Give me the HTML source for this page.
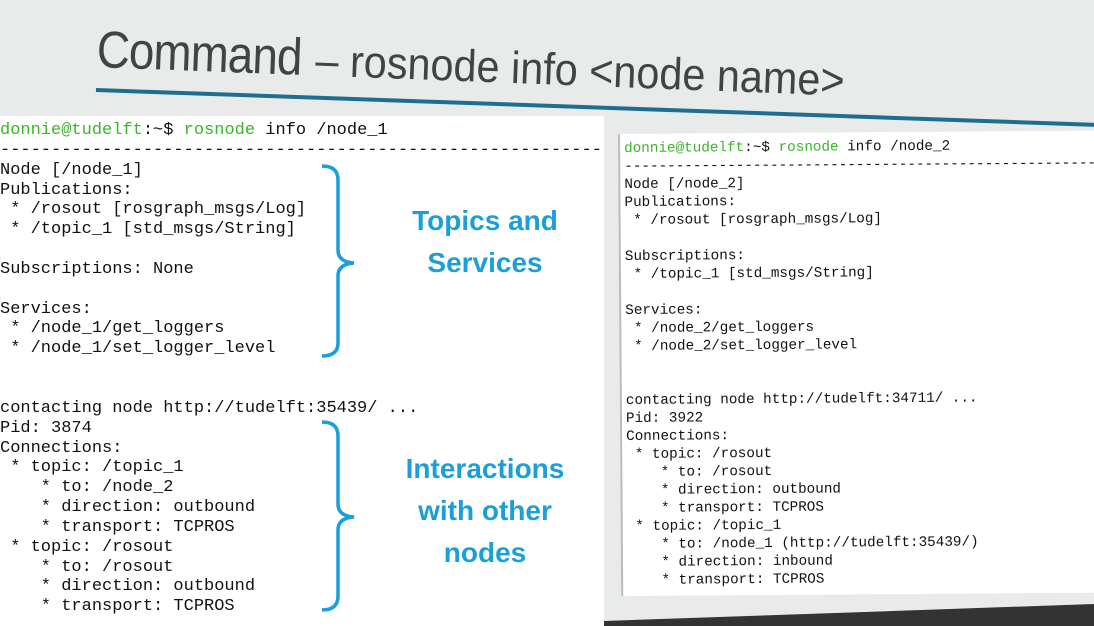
<!DOCTYPE html>
<html><head><meta charset="utf-8"><style>
html,body{margin:0;padding:0;width:1094px;height:626px;overflow:hidden;}
body{position:relative;background:#e9ebeb;font-family:"Liberation Sans",sans-serif;}
.title{position:absolute;left:98px;top:20px;transform-origin:0 0;transform:rotate(2.2deg);color:#404444;white-space:nowrap;}
.title .a{font-size:52px;letter-spacing:-1px;display:inline-block;transform:scaleX(0.88);transform-origin:0 50%;margin-right:-14px;}
.title .b{font-size:45px;display:inline-block;transform:scaleX(0.92);transform-origin:0 50%;}
.rule{position:absolute;left:96px;top:88px;width:1000px;height:4px;background:#1e6f8f;transform-origin:0 0;transform:rotate(2deg);}
.left{position:absolute;left:0;top:116px;width:604px;height:510px;background:#fff;overflow:hidden;}
.right{position:absolute;left:618px;top:134px;width:474px;height:462px;background:#fff;border-left:2px solid #bbb;transform-origin:0 0;transform:rotate(-0.4deg);overflow:hidden;}
pre{margin:0;font-family:"Liberation Mono",monospace;color:#111;position:absolute;}
.left pre{left:0;top:5px;font-size:17px;line-height:19.85px;}
.right pre{left:4px;top:6px;font-size:14.3px;line-height:18px;}
.g{color:#3bb52a}
.lbl{position:absolute;color:#1a9fd8;font-weight:bold;font-size:28px;text-align:center;line-height:42px;width:220px;}
</style></head><body>
<div class="title"><span class="a">Command</span><span class="b"> – rosnode info &lt;node name&gt;</span></div>
<div class="rule"></div>
<div class="left"><pre><span class="g">donnie@tudelft</span>:~$ <span class="g">rosnode</span> info /node_1
-----------------------------------------------------------
Node [/node_1]
Publications:
 * /rosout [rosgraph_msgs/Log]
 * /topic_1 [std_msgs/String]

Subscriptions: None

Services:
 * /node_1/get_loggers
 * /node_1/set_logger_level


contacting node http://tudelft:35439/ ...
Pid: 3874
Connections:
 * topic: /topic_1
    * to: /node_2
    * direction: outbound
    * transport: TCPROS
 * topic: /rosout
    * to: /rosout
    * direction: outbound
    * transport: TCPROS</pre></div>
<svg style="position:absolute;left:0;top:0" width="1094" height="626">
<polygon points="604,626 604,621 1094,604 1094,626" fill="#333"/>
<path d="M322 166 Q338 166 338 180 L338 250 Q338 262 354 263 Q338 264 338 276 L338 343 Q338 356 322 356" fill="none" stroke="#1a9fd8" stroke-width="3.5"/>
<path d="M322 422 Q338 422 338 436 L338 504 Q338 516 354 517 Q338 518 338 530 L338 596 Q338 610 322 610" fill="none" stroke="#1a9fd8" stroke-width="3.5"/>
</svg>
<div class="lbl" style="left:375px;top:200px">Topics and<br>Services</div>
<div class="lbl" style="left:375px;top:448px">Interactions<br>with other<br>nodes</div>
<div class="right"><pre><span class="g">donnie@tudelft</span>:~$ <span class="g">rosnode</span> info /node_2
-----------------------------------------------------------
Node [/node_2]
Publications:
 * /rosout [rosgraph_msgs/Log]

Subscriptions:
 * /topic_1 [std_msgs/String]

Services:
 * /node_2/get_loggers
 * /node_2/set_logger_level


contacting node http://tudelft:34711/ ...
Pid: 3922
Connections:
 * topic: /rosout
    * to: /rosout
    * direction: outbound
    * transport: TCPROS
 * topic: /topic_1
    * to: /node_1 (http://tudelft:35439/)
    * direction: inbound
    * transport: TCPROS</pre></div>
</body></html>
